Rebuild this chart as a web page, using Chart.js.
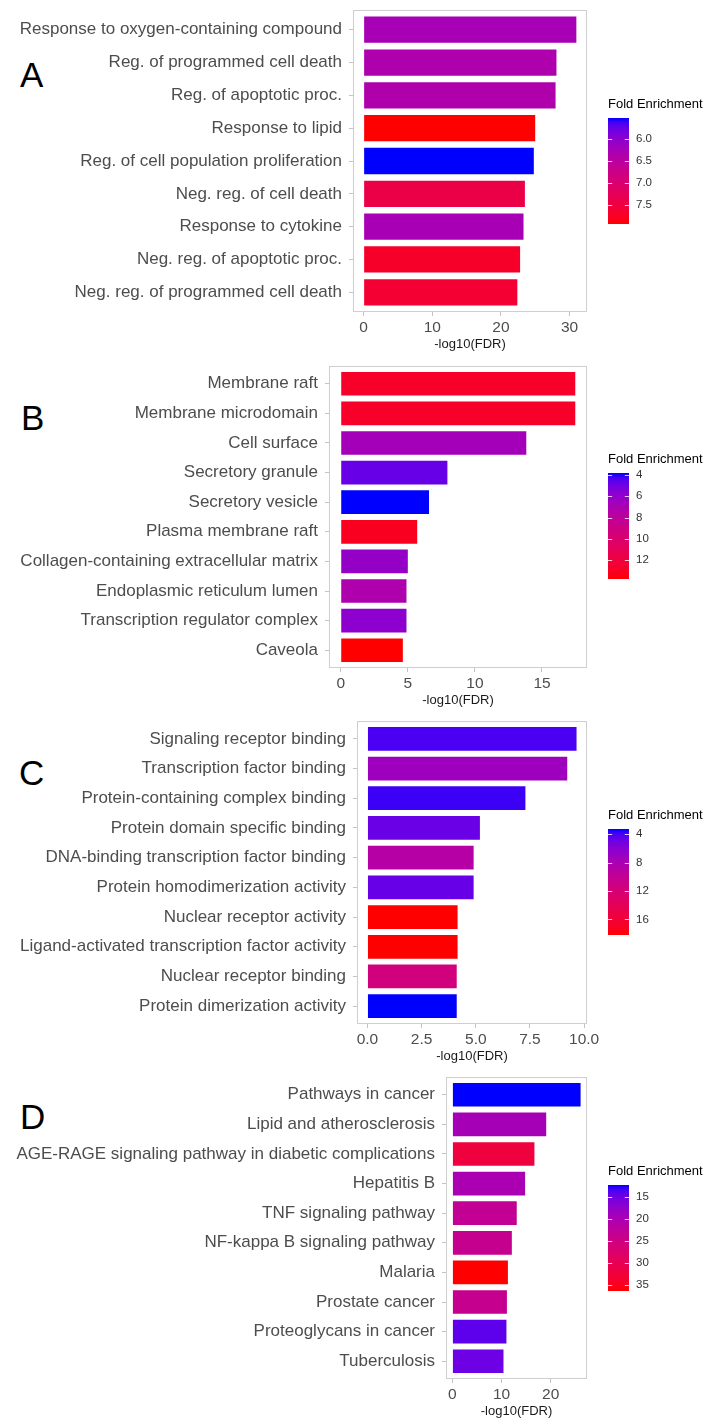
<!DOCTYPE html>
<html>
<head>
<meta charset="utf-8">
<script src="https://cdn.jsdelivr.net/npm/chart.js@4.4.1/dist/chart.umd.min.js"></script>
<style>
  html, body { margin:0; padding:0; background:#fff; }
  body { width:706px; height:1419px; overflow:hidden; position:relative; }
  .letter { position:absolute; font-family:'Liberation Sans', Arial, sans-serif; font-size:35px; line-height:1; color:#000; }
  canvas { position:absolute; }
</style>
</head>
<body>
<div class="letter" style="left:20px;top:57px">A</div>
<div class="letter" style="left:21px;top:400px">B</div>
<div class="letter" style="left:19px;top:755px">C</div>
<div class="letter" style="left:20px;top:1099px">D</div>
<script>
// ---------------- DATA ----------------
const termsA = ['Response to oxygen-containing compound','Reg. of programmed cell death','Reg. of apoptotic proc.','Response to lipid','Reg. of cell population proliferation','Neg. reg. of cell death','Response to cytokine','Neg. reg. of apoptotic proc.','Neg. reg. of programmed cell death'];
const fdrA = [31.0, 28.1, 27.97, 25.0, 24.8, 23.5, 23.3, 22.8, 22.4];
const feA = [6.28, 6.35, 6.36, 7.94, 5.53, 7.42, 6.28, 7.70, 7.63];
const xTicksA = [0, 10, 20, 30];
const xTickLabelsA = ['0', '10', '20', '30'];
const feTicksA = [6.0, 6.5, 7.0, 7.5];
const feTickLabelsA = ['6.0', '6.5', '7.0', '7.5'];

const termsB = ['Membrane raft','Membrane microdomain','Cell surface','Secretory granule','Secretory vesicle','Plasma membrane raft','Collagen-containing extracellular matrix','Endoplasmic reticulum lumen','Transcription regulator complex','Caveola'];
const fdrB = [17.48, 17.48, 13.83, 7.95, 6.58, 5.70, 5.00, 4.90, 4.90, 4.63];
const feB = [12.80, 12.80, 6.70, 4.80, 3.81, 13.10, 6.10, 7.20, 5.80, 13.77];
const xTicksB = [0, 5, 10, 15];
const xTickLabelsB = ['0', '5', '10', '15'];
const feTicksB = [4, 6, 8, 10, 12];
const feTickLabelsB = ['4', '6', '8', '10', '12'];

const termsC = ['Signaling receptor binding','Transcription factor binding','Protein-containing complex binding','Protein domain specific binding','DNA-binding transcription factor binding','Protein homodimerization activity','Nuclear receptor activity','Ligand-activated transcription factor activity','Nuclear receptor binding','Protein dimerization activity'];
const fdrC = [9.65, 9.22, 7.29, 5.19, 4.90, 4.90, 4.16, 4.16, 4.12, 4.12];
const feC = [4.00, 7.30, 3.75, 4.80, 8.90, 4.75, 18.20, 18.20, 11.50, 3.26];
const xTicksC = [0, 2.5, 5, 7.5, 10];
const xTickLabelsC = ['0.0', '2.5', '5.0', '7.5', '10.0'];
const feTicksC = [4, 8, 12, 16];
const feTickLabelsC = ['4', '8', '12', '16'];

const termsD = ['Pathways in cancer','Lipid and atherosclerosis','AGE-RAGE signaling pathway in diabetic complications','Hepatitis B','TNF signaling pathway','NF-kappa B signaling pathway','Malaria','Prostate cancer','Proteoglycans in cancer','Tuberculosis'];
const fdrD = [26.1, 19.1, 16.7, 14.8, 13.1, 12.1, 11.3, 11.1, 11.0, 10.4];
const feD = [12.19, 19.5, 32.1, 20.0, 23.1, 23.6, 36.44, 23.6, 14.1, 14.9];
const xTicksD = [0, 10, 20];
const xTickLabelsD = ['0', '10', '20'];
const feTicksD = [15, 20, 25, 30, 35];
const feTickLabelsD = ['15', '20', '25', '30', '35'];

const xTitle = '-log10(FDR)';
const legendTitle = 'Fold Enrichment';

// ---------------- STYLE / LAYOUT ----------------
const FONT = "'Liberation Sans', Arial, Helvetica, sans-serif";
Chart.defaults.font.family = FONT;
const LOW_RGB = [0, 0, 255], HIGH_RGB = [255, 0, 0];
const boxes = [
  {L:353, R:587, T:10,   B:312,  legTop:118},
  {L:329, R:587, T:366,  B:668,  legTop:473},
  {L:357, R:587, T:721,  B:1024, legTop:829},
  {L:446, R:587, T:1077, B:1379, legTop:1185}
];

// Lab interpolation (like ggplot2 scale_fill_gradient)
function toLin(c){ c/=255; return c<=0.04045 ? c/12.92 : Math.pow((c+0.055)/1.055, 2.4); }
function toS(v){ v=Math.min(1,Math.max(0,v)); const s = v<=0.0031308 ? 12.92*v : 1.055*Math.pow(v,1/2.4)-0.055; return Math.round(s*255); }
function rgb2lab(rgb){
  const [r,g,b] = rgb.map(toLin);
  const X=(0.4124564*r+0.3575761*g+0.1804375*b)/0.95047;
  const Y=(0.2126729*r+0.7151522*g+0.0721750*b);
  const Z=(0.0193339*r+0.1191920*g+0.9503041*b)/1.08883;
  const f=t=> t>0.008856 ? Math.cbrt(t) : (7.787*t+16/116);
  const fx=f(X), fy=f(Y), fz=f(Z);
  return [116*fy-16, 500*(fx-fy), 200*(fy-fz)];
}
function lab2rgb([L,a,b]){
  const fy=(L+16)/116, fx=fy+a/500, fz=fy-b/200;
  const fi=t=> t*t*t>0.008856 ? t*t*t : (t-16/116)/7.787;
  const X=0.95047*fi(fx), Y=fi(fy), Z=1.08883*fi(fz);
  const r= 3.2404542*X-1.5371385*Y-0.4985314*Z;
  const g=-0.9692660*X+1.8760108*Y+0.0415560*Z;
  const bb=0.0556434*X-0.2040259*Y+1.0572252*Z;
  return `rgb(${toS(r)},${toS(g)},${toS(bb)})`;
}
const LAB_LO = rgb2lab(LOW_RGB), LAB_HI = rgb2lab(HIGH_RGB);
function mix(t){ t=Math.min(1,Math.max(0,t)); return lab2rgb([0,1,2].map(k=>LAB_LO[k]+(LAB_HI[k]-LAB_LO[k])*t)); }

const boxPlugin = {
  id:'panelBox',
  afterDatasetsDraw(chart){
    const {ctx, chartArea:a} = chart;
    ctx.save();
    ctx.strokeStyle='#CFCFCF'; ctx.lineWidth=1;
    const l=Math.round(a.left), t=Math.round(a.top), r=Math.round(a.right), b=Math.round(a.bottom);
    ctx.strokeRect(l+0.5, t+0.5, r-l-1, b-t-1);
    ctx.restore();
  }
};
const barTicksPlugin = {
  id:'cbTicks',
  afterDatasetsDraw(chart){
    const {ctx, chartArea:a} = chart; const ys = chart.scales.y;
    const w = a.right - a.left;
    ctx.save(); ctx.strokeStyle='rgba(255,255,255,0.8)'; ctx.lineWidth=1;
    ys.ticks.forEach(tk=>{
      const y=Math.round(ys.getPixelForValue(tk.value))+0.5;
      ctx.beginPath(); ctx.moveTo(a.left,y); ctx.lineTo(a.left+w*0.2,y);
      ctx.moveTo(a.right-w*0.2,y); ctx.lineTo(a.right,y); ctx.stroke();
    });
    ctx.restore();
  }
};

const panels = [
  {terms:termsA, fdr:fdrA, fe:feA, xTicks:xTicksA, xTickLabels:xTickLabelsA, feTicks:feTicksA, feTickLabels:feTickLabelsA},
  {terms:termsB, fdr:fdrB, fe:feB, xTicks:xTicksB, xTickLabels:xTickLabelsB, feTicks:feTicksB, feTickLabels:feTickLabelsB},
  {terms:termsC, fdr:fdrC, fe:feC, xTicks:xTicksC, xTickLabels:xTickLabelsC, feTicks:feTicksC, feTickLabels:feTickLabelsC},
  {terms:termsD, fdr:fdrD, fe:feD, xTicks:xTicksD, xTickLabels:xTickLabelsD, feTicks:feTicksD, feTickLabels:feTickLabelsD}
];

function addCanvas(left, top, w, h){
  const c=document.createElement('canvas');
  c.width=w; c.height=h;
  c.style.left=left+'px'; c.style.top=top+'px'; c.style.width=w+'px'; c.style.height=h+'px';
  document.body.appendChild(c);
  return c;
}

panels.forEach((p, i)=>{
  const bx = boxes[i];
  const lo = Math.min(...p.fe), hi = Math.max(...p.fe);
  const n = p.terms.length;
  const xmax = Math.max(...p.fdr);
  const padTop=18, XH=44, CW=606;
  const CH = padTop + (bx.B-bx.T) + XH;
  const cv = addCanvas(0, bx.T-padTop, CW, CH);
  new Chart(cv, {
    type:'bar',
    data:{ datasets:[{
      data: p.fdr.map((v,k)=>({x:v, y:k})),
      backgroundColor: p.fe.map(v=>mix((v-lo)/(hi-lo))),
      borderWidth:0, barPercentage:0.8, categoryPercentage:1
    }]},
    options:{
      indexAxis:'y', responsive:false, animation:false, events:[],
      layout:{padding:{top:padTop, right:CW-bx.R, left:0, bottom:0}},
      plugins:{legend:{display:false}, tooltip:{enabled:false}},
      scales:{
        y:{
          type:'linear', reverse:true, min:-0.6, max:n-0.4, offset:false,
          afterBuildTicks: ax=>{ ax.ticks = p.terms.map((_,k)=>({value:k})); },
          afterFit: s=>{ s.width = bx.L; },
          ticks:{ callback:v=>p.terms[v], autoSkip:false, font:{size:17}, color:'#4D4D4D', padding:7 },
          grid:{ offset:false, drawOnChartArea:false, drawTicks:true, tickLength:4, color:'#C4C4C4' },
          border:{display:false}
        },
        x:{
          type:'linear', min:-0.05*xmax, max:1.05*xmax, offset:false,
          afterBuildTicks: ax=>{ ax.ticks = p.xTicks.map(v=>({value:v})); },
          afterFit: s=>{ s.height = XH; },
          ticks:{ callback:(v,k)=>p.xTickLabels[k], autoSkip:false, maxRotation:0, font:{size:15.5}, color:'#4D4D4D', padding:2 },
          title:{ display:true, text:xTitle, font:{size:13}, color:'#1A1A1A', padding:{top:0, bottom:4} },
          grid:{ offset:false, drawOnChartArea:false, drawTicks:true, tickLength:4, color:'#C4C4C4' },
          border:{display:false}
        }
      }
    },
    plugins:[boxPlugin]
  });

  // colour bar legend
  const TH=25, BH=106, padB=15, LW=100;
  const lc = addCanvas(606, bx.legTop-TH, LW, TH+BH+padB);
  new Chart(lc, {
    type:'bar',
    data:{ labels:[legendTitle], datasets:[{
      data:[[lo, hi]],
      backgroundColor:(c)=>{
        const ch=c.chart, ys=ch.scales.y;
        if(!ch.chartArea || !ys) return mix(0.5);
        const g=ch.ctx.createLinearGradient(0, ys.getPixelForValue(lo), 0, ys.getPixelForValue(hi));
        for(let k=0;k<=24;k++) g.addColorStop(k/24, mix(k/24));
        return g;
      },
      borderWidth:0, barPercentage:1, categoryPercentage:1
    }]},
    options:{
      responsive:false, animation:false, events:[],
      layout:{padding:{left:2, top:0, right:0, bottom:padB}},
      plugins:{
        legend:{display:false}, tooltip:{enabled:false},
        title:{display:true, text:legendTitle, align:'start', color:'#000', font:{size:13, weight:'normal'}, padding:{top:4, bottom:5.4}}
      },
      scales:{
        x:{display:false},
        y:{
          type:'linear', position:'right', reverse:true, min:lo, max:hi, offset:false,
          afterBuildTicks: ax=>{ ax.ticks = p.feTicks.map(v=>({value:v})); },
          afterFit: s=>{ s.width = LW-2-21; },
          ticks:{ callback:(v,k)=>p.feTickLabels[k], autoSkip:false, font:{size:11.5}, color:'#333', padding:7 },
          grid:{display:false, drawTicks:false},
          border:{display:false}
        }
      }
    },
    plugins:[barTicksPlugin]
  });
});
</script>
</body>
</html>
